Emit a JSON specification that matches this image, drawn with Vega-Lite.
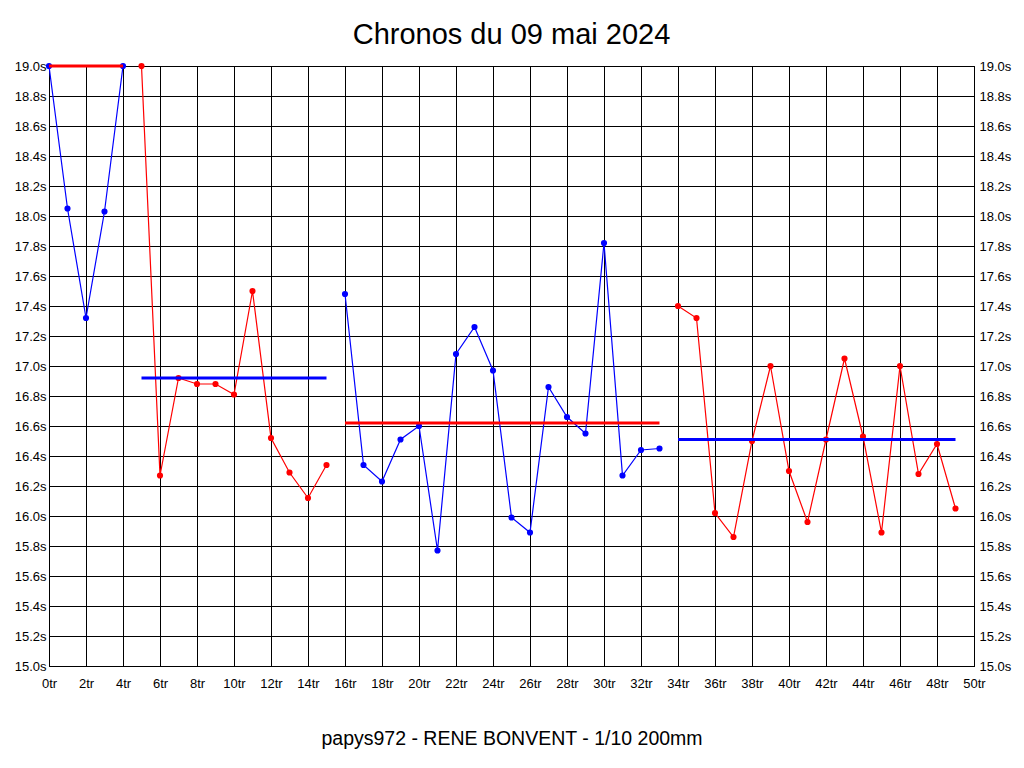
{
  "$schema": "https://vega.github.io/schema/vega-lite/v6.json",
  "width": 925,
  "height": 600,
  "autosize": {"type": "none"},
  "padding": {"left": 49, "top": 66, "right": 50, "bottom": 102},
  "background": "white",
  "title": {
    "text": "Chronos du 09 mai 2024",
    "font": "Liberation Sans",
    "fontSize": 29,
    "fontWeight": "normal",
    "color": "black",
    "anchor": "middle",
    "offset": 10
  },
  "config": {
    "view": {"stroke": "black", "strokeWidth": 1},
    "axis": {
      "labelFont": "Liberation Sans",
      "labelFontSize": 13,
      "labelColor": "black",
      "gridColor": "black",
      "gridOpacity": 1,
      "gridWidth": 1,
      "domainColor": "black",
      "ticks": false,
      "labelOverlap": false,
      "labelFlush": false
    },
    "axisX": {
      "values": [0, 2, 4, 6, 8, 10, 12, 14, 16, 18, 20, 22, 24, 26, 28, 30, 32, 34, 36, 38, 40, 42, 44, 46, 48, 50],
      "labelExpr": "datum.value + 'tr'",
      "grid": true,
      "labelPadding": 11,
      "titleFont": "Liberation Sans",
      "titleFontSize": 19.5,
      "titleFontWeight": "normal",
      "titleColor": "black",
      "titlePadding": 39
    }
  },
  "datasets": {
    "chronos": [
      {"tr": 0, "temps": 19.0, "serie": "s1"},
      {"tr": 1, "temps": 18.05, "serie": "s1"},
      {"tr": 2, "temps": 17.32, "serie": "s1"},
      {"tr": 3, "temps": 18.03, "serie": "s1"},
      {"tr": 4, "temps": 19.0, "serie": "s1"},
      {"tr": 5, "temps": 19.0, "serie": "s2"},
      {"tr": 6, "temps": 16.27, "serie": "s2"},
      {"tr": 7, "temps": 16.92, "serie": "s2"},
      {"tr": 8, "temps": 16.88, "serie": "s2"},
      {"tr": 9, "temps": 16.88, "serie": "s2"},
      {"tr": 10, "temps": 16.81, "serie": "s2"},
      {"tr": 11, "temps": 17.5, "serie": "s2"},
      {"tr": 12, "temps": 16.52, "serie": "s2"},
      {"tr": 13, "temps": 16.29, "serie": "s2"},
      {"tr": 14, "temps": 16.12, "serie": "s2"},
      {"tr": 15, "temps": 16.34, "serie": "s2"},
      {"tr": 16, "temps": 17.48, "serie": "s3"},
      {"tr": 17, "temps": 16.34, "serie": "s3"},
      {"tr": 18, "temps": 16.23, "serie": "s3"},
      {"tr": 19, "temps": 16.51, "serie": "s3"},
      {"tr": 20, "temps": 16.6, "serie": "s3"},
      {"tr": 21, "temps": 15.77, "serie": "s3"},
      {"tr": 22, "temps": 17.08, "serie": "s3"},
      {"tr": 23, "temps": 17.26, "serie": "s3"},
      {"tr": 24, "temps": 16.97, "serie": "s3"},
      {"tr": 25, "temps": 15.99, "serie": "s3"},
      {"tr": 26, "temps": 15.89, "serie": "s3"},
      {"tr": 27, "temps": 16.86, "serie": "s3"},
      {"tr": 28, "temps": 16.66, "serie": "s3"},
      {"tr": 29, "temps": 16.55, "serie": "s3"},
      {"tr": 30, "temps": 17.82, "serie": "s3"},
      {"tr": 31, "temps": 16.27, "serie": "s3"},
      {"tr": 32, "temps": 16.44, "serie": "s3"},
      {"tr": 33, "temps": 16.45, "serie": "s3"},
      {"tr": 34, "temps": 17.4, "serie": "s4"},
      {"tr": 35, "temps": 17.32, "serie": "s4"},
      {"tr": 36, "temps": 16.02, "serie": "s4"},
      {"tr": 37, "temps": 15.86, "serie": "s4"},
      {"tr": 38, "temps": 16.5, "serie": "s4"},
      {"tr": 39, "temps": 17.0, "serie": "s4"},
      {"tr": 40, "temps": 16.3, "serie": "s4"},
      {"tr": 41, "temps": 15.96, "serie": "s4"},
      {"tr": 42, "temps": 16.51, "serie": "s4"},
      {"tr": 43, "temps": 17.05, "serie": "s4"},
      {"tr": 44, "temps": 16.53, "serie": "s4"},
      {"tr": 45, "temps": 15.89, "serie": "s4"},
      {"tr": 46, "temps": 17.0, "serie": "s4"},
      {"tr": 47, "temps": 16.28, "serie": "s4"},
      {"tr": 48, "temps": 16.48, "serie": "s4"},
      {"tr": 49, "temps": 16.05, "serie": "s4"}
    ],
    "moyennes": [
      {"serie": "s1", "debut": 0, "fin": 4, "moyenne": 19.0},
      {"serie": "s2", "debut": 5, "fin": 15, "moyenne": 16.92},
      {"serie": "s3", "debut": 16, "fin": 33, "moyenne": 16.62},
      {"serie": "s4", "debut": 34, "fin": 49, "moyenne": 16.51}
    ]
  },
  "layer": [
    {
      "data": {"name": "chronos"},
      "mark": {"type": "line", "strokeWidth": 1.2},
      "encoding": {
        "x": {
          "field": "tr",
          "type": "quantitative",
          "scale": {"domain": [0, 50], "nice": false, "zero": false},
          "axis": {"title": "papys972 - RENE BONVENT - 1/10 200mm"}
        },
        "y": {
          "field": "temps",
          "type": "quantitative",
          "scale": {"domain": [15, 19], "nice": false, "zero": false},
          "axis": {
            "orient": "left",
            "values": [15, 15.2, 15.4, 15.6, 15.8, 16, 16.2, 16.4, 16.6, 16.8, 17, 17.2, 17.4, 17.6, 17.8, 18, 18.2, 18.4, 18.6, 18.8, 19],
            "labelExpr": "format(datum.value, '.1f') + 's'",
            "grid": true,
            "labelPadding": 3,
            "title": null
          }
        },
        "color": {
          "field": "serie",
          "type": "nominal",
          "scale": {"domain": ["s1", "s2", "s3", "s4"], "range": ["#0000ff", "#ff0000", "#0000ff", "#ff0000"]},
          "legend": null
        }
      }
    },
    {
      "data": {"name": "chronos"},
      "mark": {"type": "circle", "size": 38, "opacity": 1},
      "encoding": {
        "x": {
          "field": "tr",
          "type": "quantitative",
          "axis": {"title": "papys972 - RENE BONVENT - 1/10 200mm"}
        },
        "y": {
          "field": "temps",
          "type": "quantitative",
          "axis": {
            "orient": "right",
            "values": [15, 15.2, 15.4, 15.6, 15.8, 16, 16.2, 16.4, 16.6, 16.8, 17, 17.2, 17.4, 17.6, 17.8, 18, 18.2, 18.4, 18.6, 18.8, 19],
            "labelExpr": "format(datum.value, '.1f') + 's'",
            "grid": false,
            "labelPadding": 5,
            "title": null
          }
        },
        "color": {
          "field": "serie",
          "type": "nominal",
          "scale": {"domain": ["s1", "s2", "s3", "s4"], "range": ["#0000ff", "#ff0000", "#0000ff", "#ff0000"]},
          "legend": null
        }
      }
    },
    {
      "data": {"name": "moyennes"},
      "mark": {"type": "rule", "strokeWidth": 3},
      "encoding": {
        "x": {
          "field": "debut",
          "type": "quantitative",
          "axis": {"title": "papys972 - RENE BONVENT - 1/10 200mm"}
        },
        "x2": {"field": "fin"},
        "y": {"field": "moyenne", "type": "quantitative", "axis": null},
        "color": {
          "field": "serie",
          "type": "nominal",
          "scale": {"domain": ["s1", "s2", "s3", "s4"], "range": ["#ff0000", "#0000ff", "#ff0000", "#0000ff"]},
          "legend": null
        }
      }
    }
  ],
  "resolve": {"scale": {"color": "independent"}, "axis": {"y": "independent"}}
}
